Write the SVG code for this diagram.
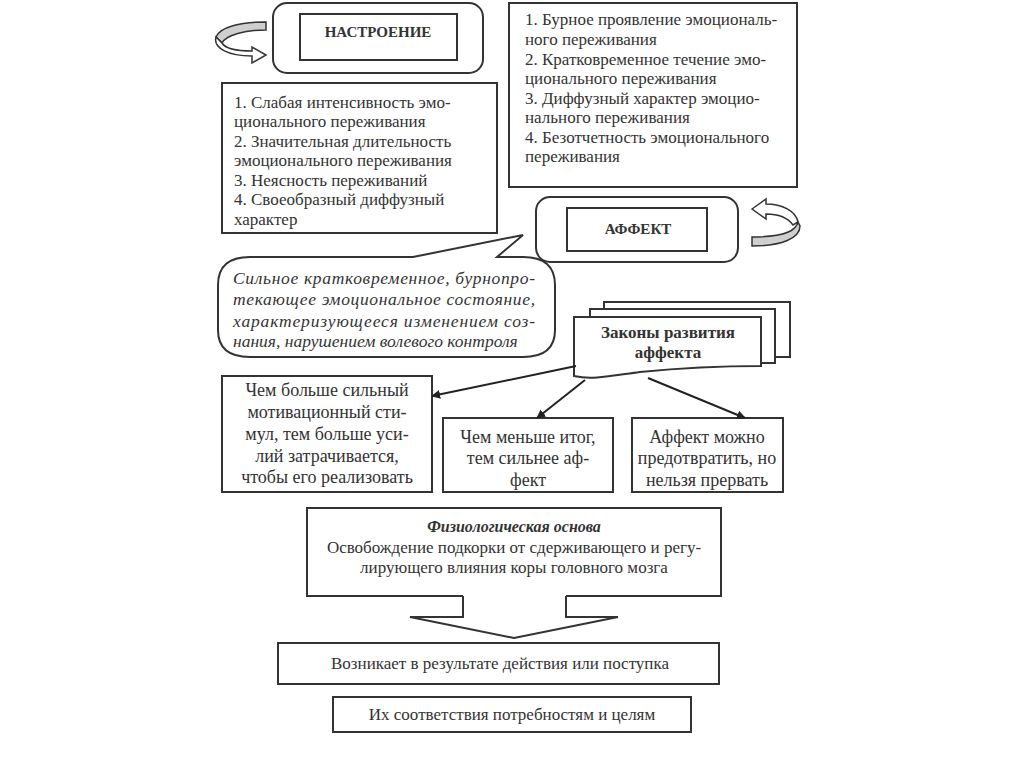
<svg xmlns="http://www.w3.org/2000/svg" width="1024" height="767" viewBox="0 0 1024 767" font-family="'Liberation Serif', 'DejaVu Serif', serif">
<defs>
<marker id="ah" viewBox="0 0 10 10" refX="9" refY="5" markerWidth="9" markerHeight="9" markerUnits="userSpaceOnUse" orient="auto"><path d="M0,0 L10,5 L0,10 Z" fill="#222"/></marker>
<style>
.b{fill:#fff;stroke:#333;stroke-width:2}
text{font-family:'Liberation Serif','DejaVu Serif',serif}
.t{font-size:17px;fill:#333}
.m{font-size:18px;fill:#333;text-anchor:middle}
.s{font-size:17px}
.i{font-size:17.5px;font-style:italic;fill:#333}
.h{font-size:15px;font-weight:bold;fill:#333;text-anchor:middle}
.c{fill:none;stroke:#222;stroke-width:2}
.g{fill:#cfcfcf;stroke:#333;stroke-width:1.5}
.w{fill:#fff;stroke:#333;stroke-width:1.5}
</style>
</defs>
<rect width="1024" height="767" fill="#fff"/>

<g id="nastroenie">
<rect class="b" x="273" y="3" width="210" height="70" rx="14"/>
<rect class="b" x="300" y="14" width="157" height="46"/>
<text class="h" x="378" y="37">НАСТРОЕНИЕ</text>
<path class="g" d="M266,22 C240,22 220,27 216,37 L222,43 C226,35 245,30 266,30 Z"/>
<path class="w" d="M216,37 C213,48 228,56 252,56 L252,63 L266,55 L252,47 L252,51 C236,51 225,48 222,43 Z"/>
</g>

<g id="nastroenie-props">
<rect class="b" x="222" y="83" width="275" height="150"/>
<text class="t" x="234" y="108">1. Слабая интенсивность эмо-</text>
<text class="t" x="234" y="127">ционального переживания</text>
<text class="t" x="234" y="147">2. Значительная длительность</text>
<text class="t" x="234" y="166">эмоционального переживания</text>
<text class="t" x="234" y="186">3. Неясность переживаний</text>
<text class="t" x="234" y="205">4. Своеобразный диффузный</text>
<text class="t" x="234" y="225">характер</text>
</g>

<g id="affekt-props">
<rect class="b" x="509" y="3" width="288" height="184"/>
<text class="t" x="525" y="25">1. Бурное проявление эмоциональ-</text>
<text class="t" x="525" y="45">ного переживания</text>
<text class="t" x="525" y="65">2. Кратковременное течение эмо-</text>
<text class="t" x="525" y="84">ционального переживания</text>
<text class="t" x="525" y="104">3. Диффузный характер эмоцио-</text>
<text class="t" x="525" y="123">нального переживания</text>
<text class="t" x="525" y="143">4. Безотчетность эмоционального</text>
<text class="t" x="525" y="162">переживания</text>
</g>

<g id="affekt">
<rect class="b" x="536" y="197" width="202" height="65" rx="14"/>
<rect class="b" x="567" y="208" width="140" height="43"/>
<text class="h" x="638" y="234">АФФЕКТ</text>
<path class="g" d="M798,222 C796,232 780,237 752,237 L752,246 C782,246 800,238 800,226 Z"/>
<path class="w" d="M752,209 L766,199 L766,204 C782,204 796,211 798,222 L793,225 C788,218 780,214 766,214 L766,219 Z"/>
</g>

<g id="definition">
<path class="b" d="M250,257 L413,257 L523,235 L497,257 L523,257 Q555,257 555,285 L555,330 Q555,357 523,357 L250,357 Q218,357 218,330 L218,285 Q218,257 250,257 Z"/>
<text class="i" x="233" y="284" textLength="302" lengthAdjust="spacing">Сильное кратковременное, бурнопро-</text>
<text class="i" x="233" y="305" textLength="302" lengthAdjust="spacing">текающее эмоциональное состояние,</text>
<text class="i" x="233" y="327" textLength="302" lengthAdjust="spacing">характеризующееся изменением соз-</text>
<text class="i" x="233" y="347">нания, нарушением волевого контроля</text>
</g>

<g id="laws">
<rect class="b" x="604" y="302" width="186" height="55"/>
<rect class="b" x="590" y="309" width="185" height="54"/>
<path class="b" d="M574,317 L761,317 L761,366 C720,366 680,368 640,372 C610,376 592,380 574,376 Z"/>
<text class="h" x="668" y="338" style="font-size:17px">Законы развития</text>
<text class="h" x="668" y="358" style="font-size:17px">аффекта</text>
</g>

<g id="law1">
<rect class="b" x="222" y="376" width="210" height="116"/>
<text class="m" x="327" y="396">Чем больше сильный</text>
<text class="m" x="327" y="418">мотивационный сти-</text>
<text class="m" x="327" y="440">мул, тем больше уси-</text>
<text class="m" x="327" y="462">лий затрачивается,</text>
<text class="m" x="327" y="483">чтобы его реализовать</text>
</g>

<g id="law2">
<rect class="b" x="443" y="418" width="170" height="74"/>
<text class="m" x="528" y="443">Чем меньше итог,</text>
<text class="m" x="528" y="464">тем сильнее аф-</text>
<text class="m" x="528" y="486">фект</text>
</g>

<g id="law3">
<rect class="b" x="632" y="418" width="151" height="74"/>
<text class="m" x="707" y="443">Аффект можно</text>
<text class="m" x="707" y="464">предотвратить, но</text>
<text class="m" x="707" y="486">нельзя прервать</text>
</g>

<g id="physio">
<path class="b" d="M463,596 L307,596 L307,508 L721,508 L721,596 L566,596"/>
<text class="m" x="514" y="532" style="font-weight:bold;font-style:italic;font-size:16px">Физиологическая основа</text>
<text class="m s" x="514" y="553">Освобождение подкорки от сдерживающего и регу-</text>
<text class="m s" x="514" y="573">лирующего влияния коры головного мозга</text>
</g>

<g id="result">
<rect class="b" x="278" y="643" width="441" height="41"/>
<text class="m s" x="500" y="669">Возникает в результате действия или поступка</text>
</g>

<g id="needs">
<rect class="b" x="333" y="697" width="358" height="35"/>
<text class="m s" x="512" y="720">Их соответствия потребностям и целям</text>
</g>

<g id="connectors">
<line class="c" x1="576" y1="366" x2="432" y2="396" marker-end="url(#ah)"/>
<line class="c" x1="585" y1="380" x2="537" y2="418" marker-end="url(#ah)"/>
<line class="c" x1="648" y1="378" x2="745" y2="418" marker-end="url(#ah)"/>
<path d="M463,596 L463,617 L410,617 L514,638 L618,617 L566,617 L566,596" fill="#fff" stroke="#333" stroke-width="2" stroke-linejoin="miter"/>
</g>
</svg>
